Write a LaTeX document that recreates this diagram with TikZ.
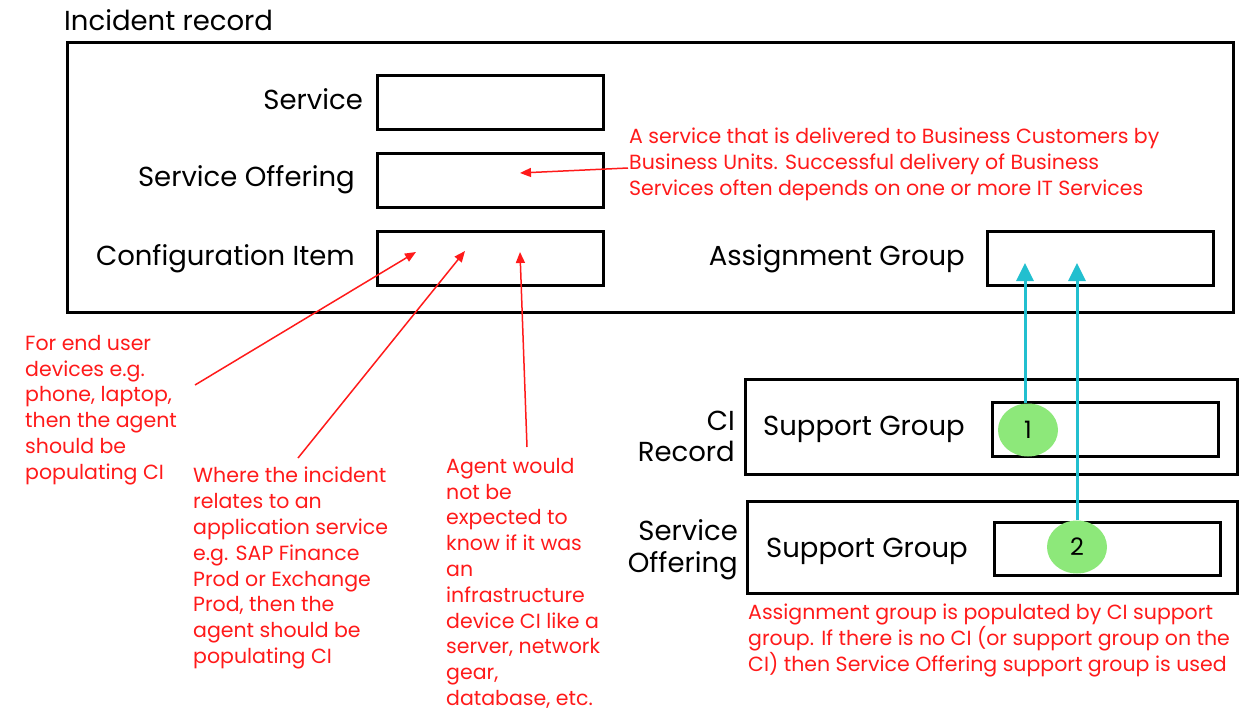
\documentclass[tikz,border=0pt]{standalone}
\usepackage{fontspec}
\setmainfont{Poppins}
\usetikzlibrary{arrows.meta,shapes.geometric}
\definecolor{ann}{HTML}{FF1A1A}
\definecolor{cyanarr}{HTML}{22BFCF}
\definecolor{badge}{HTML}{8DE87A}
\begin{document}
\begin{tikzpicture}[x=1pt,y=-1pt,
  frame/.style={draw, line width=3pt, inner sep=0pt, anchor=north west},
  field/.style={frame, minimum width=226pt, minimum height=54pt},
  lbl/.style={font=\fontsize{27.5}{32}\selectfont, inner sep=0pt},
  note/.style={text=ann, font=\fontsize{20.5}{25.8}\selectfont, align=left, inner sep=0pt, anchor=north west},
  redarr/.style={draw=ann, line width=1.5pt, -{Triangle[length=11pt,width=9pt]}},
  cyarr/.style={draw=cyanarr, line width=3pt, -{Triangle[length=18pt,width=17pt]}},
  num/.style={ellipse, fill=badge, minimum width=60pt, minimum height=53pt, inner sep=0pt, font=\fontsize{24}{28}\selectfont}
]
\useasboundingbox (0,0) rectangle (1248,709);

% incident record
\node[lbl, anchor=base west] (title) at (64,31) {Incident record};
\node[frame, minimum width=1166pt, minimum height=270pt] (rec) at (66,41) {};

\node[field] (svc) at (376,74) {};
\node[field] (off) at (376,152) {};
\node[field] (ci) at (376,230) {};
\node[field] (ag) at (986,230) {};

\node[lbl, anchor=base east] (lsvc) at (363,109) {Service};
\node[lbl, anchor=base east] (loff) at (355,186) {Service Offering};
\node[lbl, anchor=base east] (lci) at (355,265) {Configuration Item};
\node[lbl, anchor=base east] (lag) at (965,265) {Assignment Group};

% CI record
\node[frame, minimum width=492pt, minimum height=95pt] (cirec) at (744,378) {};
\node[lbl, anchor=base east] (lcirec1) at (735,430) {CI};
\node[lbl, anchor=base east] (lcirec2) at (735,461) {Record};
\node[lbl, anchor=base west] (sg1) at (763,435) {Support Group};
\node[field] (sgbox1) at (991,401) {};

% Service offering record
\node[frame, minimum width=490pt, minimum height=92pt] (sorec) at (746,500) {};
\node[lbl, anchor=base east] (lsorec1) at (738,540) {Service};
\node[lbl, anchor=base east] (lsorec2) at (738,572) {Offering};
\node[lbl, anchor=base west] (sg2) at (766,557) {Support Group};
\node[field, minimum height=53pt] (sgbox2) at (993,521) {};

% badges
\node[num] (b1) at (1028,430) {1};
\node[num] (b2) at (1077,547) {2};

\coordinate (t1) at (1025,263);
\coordinate (t2) at (1077,263);
\draw[cyarr] (b1.north -| t1) -- (t1);
\draw[cyarr] (b2.north -| t2) -- (t2);

% annotations
\node[note] (n1) at (629,128) {A service that is delivered to Business Customers by\\Business Units. Successful delivery of Business\\Services often depends on one or more IT Services};
\node[note] (n2) at (25,335) {For end user\\devices e.g.\\phone, laptop,\\then the agent\\should be\\populating CI};
\node[note] (n3) at (193,467) {Where the incident\\relates to an\\application service\\e.g. SAP Finance\\Prod or Exchange\\Prod, then the\\agent should be\\populating CI};
\node[note] (n4) at (446,458) {Agent would\\not be\\expected to\\know if it was\\an\\infrastructure\\device CI like a\\server, network\\gear,\\database, etc.};
\node[note] (n5) at (748,604) {Assignment group is populated by CI support\\group. If there is no CI (or support group on the\\CI) then Service Offering support group is used};

\coordinate (a1) at (628,168);  \coordinate (h1) at (520,173);
\coordinate (a2) at (195,385);  \coordinate (h2) at (416,252);
\coordinate (a3) at (298,458);  \coordinate (h3) at (465,251);
\coordinate (a4) at (527,447);  \coordinate (h4) at (520,252);
\draw[redarr] (a1) -- (h1);
\draw[redarr] (a2) -- (h2);
\draw[redarr] (a3) -- (h3);
\draw[redarr] (a4) -- (h4);
\end{tikzpicture}
\end{document}
